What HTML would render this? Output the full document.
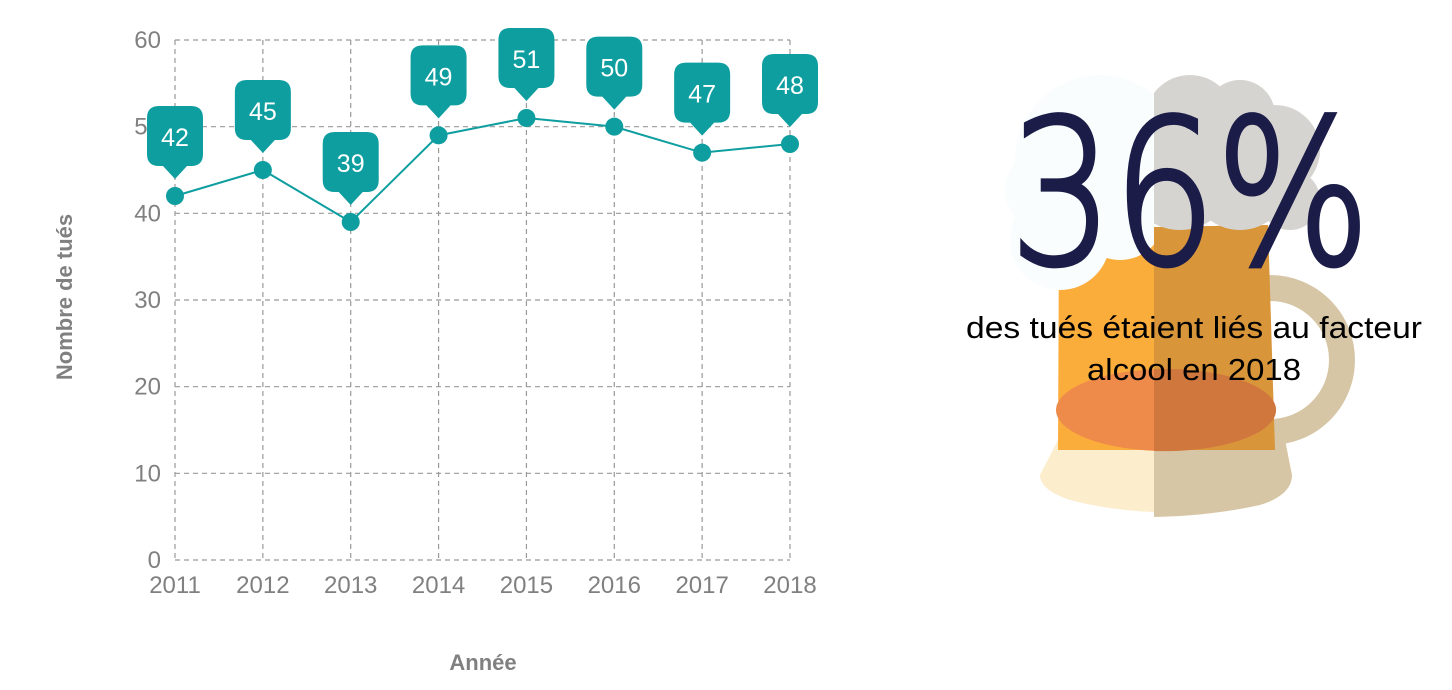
<!DOCTYPE html>
<html><head><meta charset="utf-8"><style>
html,body{margin:0;padding:0;background:#fff;width:1452px;height:690px;overflow:hidden}
svg{display:block}
</style></head><body>
<svg id="c" width="1452" height="690" xmlns="http://www.w3.org/2000/svg" font-family="Liberation Sans, sans-serif">
<g id="mug">
  <circle cx="1270" cy="360" r="72" fill="none" stroke="#d7c6a6" stroke-width="26"/>
  <path d="M1058 440 L1040 475 Q1040 490 1070 500 Q1154 522 1260 505 Q1292 495 1292 475 L1285 440 Z" fill="#fcedcc"/>
  <path d="M1154 440 L1285 440 L1292 475 Q1292 495 1260 505 Q1210 516 1154 517 Z" fill="#d7c6a6"/>
  <path d="M1059 227 L1154 227 L1154 450 L1058 450 Z" fill="#fbad3c"/>
  <path d="M1154 227 L1268 225 L1275 450 L1154 450 Z" fill="#d8953a"/>
  <ellipse cx="1166" cy="410" rx="110" ry="41" fill="#ef8b4a"/>
  <path d="M1154 369 A112 41 0 0 1 1276 410 A112 41 0 0 1 1154 451 Z" fill="#d0773e"/>
  <g>
    <clipPath id="lf"><rect x="990" y="60" width="164" height="260"/></clipPath>
    <clipPath id="rf"><rect x="1154" y="60" width="200" height="260"/></clipPath>
    <g clip-path="url(#lf)" fill="#f9fdfd">
      <circle cx="1100" cy="160" r="85"/><circle cx="1060" cy="240" r="50"/><circle cx="1120" cy="215" r="45"/><circle cx="1045" cy="190" r="40"/>
    </g>
    <g clip-path="url(#rf)" fill="#d6d4d0">
      <circle cx="1190" cy="120" r="45"/><circle cx="1240" cy="115" r="35"/><circle cx="1275" cy="150" r="45"/><circle cx="1180" cy="175" r="55"/><circle cx="1240" cy="180" r="50"/><circle cx="1290" cy="200" r="30"/>
    </g>
  </g>
</g>
<text x="1010" y="263" font-size="200" font-family="DejaVu Sans, sans-serif" font-weight="200" fill="#1b1c47" stroke="#1b1c47" stroke-width="5" textLength="360" lengthAdjust="spacingAndGlyphs">36%</text>
<text x="966" y="338" font-size="31" fill="#000" textLength="456" lengthAdjust="spacingAndGlyphs">des tués étaient liés au facteur</text>
<text x="1087" y="380" font-size="31" fill="#000" textLength="214" lengthAdjust="spacingAndGlyphs">alcool en 2018</text>
<g id="chart"></g>
</svg>
<script>
const years=["2011","2012","2013","2014","2015","2016","2017","2018"];
const values=[42,45,39,49,51,50,47,48];
const yTicks=[0,10,20,30,40,50,60];
const NS="http://www.w3.org/2000/svg";
const g=document.getElementById('chart');
const x0=175,x1=790,yb=560,yt=40;
const xs=i=>x0+(x1-x0)*i/(years.length-1);
const ys=v=>yb-(yb-yt)*v/60;
function mk(t,a,p){const e=document.createElementNS(NS,t);for(const k in a)e.setAttribute(k,a[k]);(p||g).appendChild(e);return e;}
yTicks.forEach(v=>{
  const l=mk('line',{x1:x0,x2:x1,y1:ys(v),y2:ys(v),stroke:'#999','stroke-dasharray':'5,4','stroke-width':1.2});
  
  
  const t=mk('text',{x:161,y:ys(v)+8,'font-size':24,fill:'#808080','text-anchor':'end'});
  t.textContent=v;
  
  
});
years.forEach((y,i)=>{
  const l=mk('line',{x1:xs(i),x2:xs(i),y1:yt,y2:yb,stroke:'#999','stroke-dasharray':'5,4','stroke-width':1.2});
  
  
  const t=mk('text',{x:xs(i),y:593,'font-size':24,fill:'#808080','text-anchor':'middle'});
  t.textContent=y;
  
  
});
const yt1=mk('text',{x:0,y:0,'font-size':22,'font-weight':'bold',fill:'#808080','text-anchor':'middle',transform:'translate(72,297) rotate(-90)'});
yt1.textContent='Nombre de tués';


const xt=mk('text',{x:483,y:670,'font-size':22,'font-weight':'bold',fill:'#808080','text-anchor':'middle'});
xt.textContent='Année';


const line=mk('polyline',{points:values.map((v,i)=>xs(i)+','+ys(v)).join(' '),fill:'none',stroke:'#0e9ea0','stroke-width':2});


values.forEach((v,i)=>{
  const cx=xs(i),cy=ys(v);
  const d=mk('circle',{cx:cx,cy:cy,r:9,fill:'#0e9ea0'});
  
  
  const bx=cx-28,by=cy-90,w=56,h=60,r=12;
  const p=mk('path',{fill:'#0e9ea0',d:`M${bx+r} ${by} H${bx+w-r} Q${bx+w} ${by} ${bx+w} ${by+r} V${by+h-r} Q${bx+w} ${by+h} ${bx+w-r} ${by+h} H${cx+12} L${cx} ${cy-17} L${cx-12} ${by+h} H${bx+r} Q${bx} ${by+h} ${bx} ${by+h-r} V${by+r} Q${bx} ${by} ${bx+r} ${by} Z`});
  
  
  const t=mk('text',{x:cx,y:cy-50,'font-size':25,fill:'#fff','text-anchor':'middle'});
  t.textContent=v;
  
  
});
</script>
</body></html>
